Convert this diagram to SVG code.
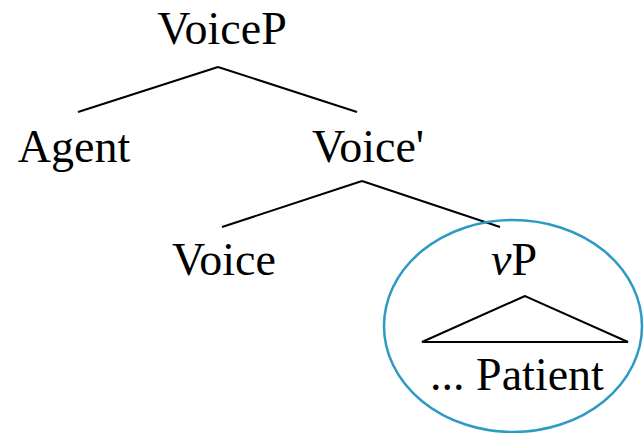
<svg xmlns="http://www.w3.org/2000/svg" width="644" height="433" viewBox="0 0 644 433">
<style>
text{font-family:"Liberation Serif","DejaVu Serif",serif;font-size:46px;fill:#000;text-anchor:middle}
.e{stroke:#000;stroke-width:2;fill:none}
</style>
<rect width="644" height="433" fill="#fff"/>
<g id="connectors">
<line class="e" x1="218" y1="67" x2="78" y2="112"/>
<line class="e" x1="218" y1="67" x2="357" y2="112"/>
<line class="e" x1="362" y1="181" x2="222" y2="227"/>
<line class="e" x1="362" y1="181" x2="500" y2="227"/>
</g>
<g id="VoiceP"><text x="222" y="44">VoiceP</text></g>
<g id="Agent"><text x="74" y="162">Agent</text></g>
<g id="VoiceBar"><text x="368" y="162">Voice'</text></g>
<g id="Voice"><text x="224" y="275">Voice</text></g>
<g id="vP">
<ellipse cx="513" cy="326" rx="129" ry="106" fill="none" stroke="#2b9bc3" stroke-width="2.5"/>
<text x="514" y="275"><tspan font-style="italic">ν</tspan>P</text>
<polygon points="525,296 422,342 628,342" fill="none" stroke="#000" stroke-width="2"/>
<text x="517" y="390">... Patient</text>
</g>
</svg>
